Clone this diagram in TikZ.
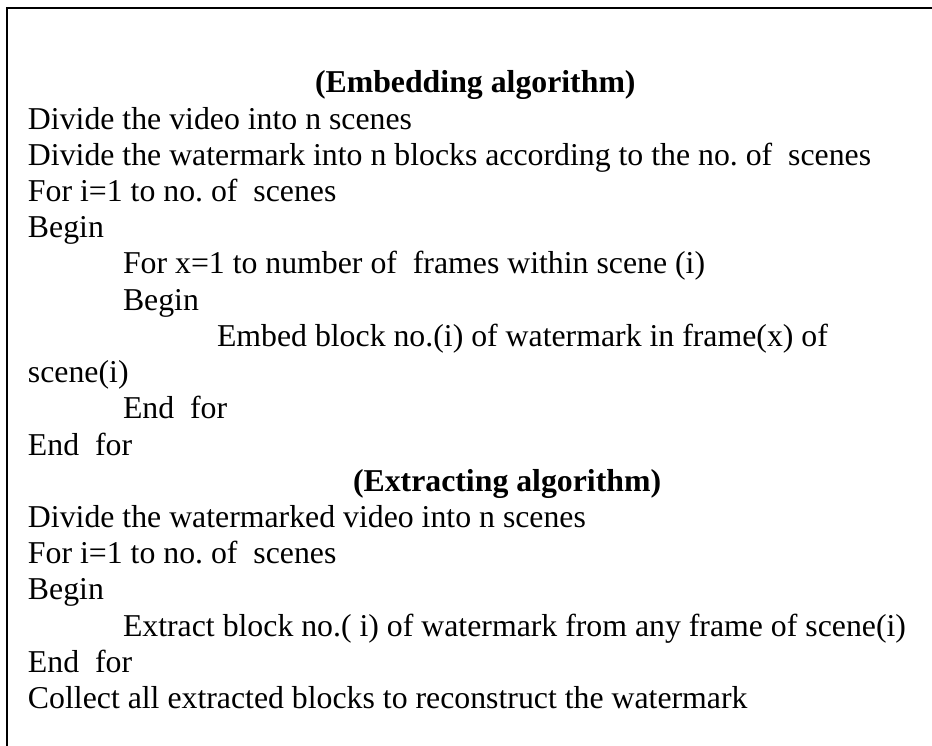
\documentclass[tikz,border=0pt]{standalone}
\usepackage{fontspec}
\setmainfont{Liberation Serif}
\frenchspacing
\begin{document}
\begin{tikzpicture}[x=0.38125pt,y=-0.38125pt,
  txt/.style={anchor=base west,inner sep=0pt,outer sep=0pt,font=\fontsize{12.12}{14}\selectfont\frenchspacing},
  head/.style={txt,font=\fontsize{12.12}{14}\selectfont\bfseries\frenchspacing},
  frameline/.style={line width=0.76pt,black}]
\useasboundingbox (0,0) rectangle (932,746);
\coordinate (tl) at (7,8);
\coordinate (tr) at (932,8);
\coordinate (bl) at (7,746);
\draw[frameline] (tr) -- (tl) -- (bl);
\node[head] (h1) at (315,93) {(Embedding algorithm)};
\node[txt] (l1) at (28,129.2) {Divide the video into n scenes};
\node[txt] (l2) at (28,165.4) {Divide the watermark into n blocks according to the no. of\ \ scenes};
\node[txt] (l3) at (28,201.6) {For i=1 to no. of\ \ scenes};
\node[txt] (l4) at (28,237.8) {Begin};
\node[txt] (l5) at (123,274.0) {For x=1 to number of\ \ frames within scene (i)};
\node[txt] (l6) at (123,310.2) {Begin};
\node[txt] (l7) at (217,346.4) {Embed block no.(i) of watermark in frame(x) of};
\node[txt] (l8) at (28,382.6) {scene(i)};
\node[txt] (l9) at (123,418.8) {End\ \ for};
\node[txt] (l10) at (28,455.0) {End\ \ for};
\node[head] (h2) at (353,491.2) {(Extracting algorithm)};
\node[txt] (l11) at (28,527.4) {Divide the watermarked video into n scenes};
\node[txt] (l12) at (28,563.6) {For i=1 to no. of\ \ scenes};
\node[txt] (l13) at (28,599.8) {Begin};
\node[txt] (l14) at (123,636.0) {Extract block no.( i) of watermark from any frame of scene(i)};
\node[txt] (l15) at (28,672.2) {End\ \ for};
\node[txt] (l16) at (28,708.4) {Collect all extracted blocks to reconstruct the watermark};
\end{tikzpicture}
\end{document}
